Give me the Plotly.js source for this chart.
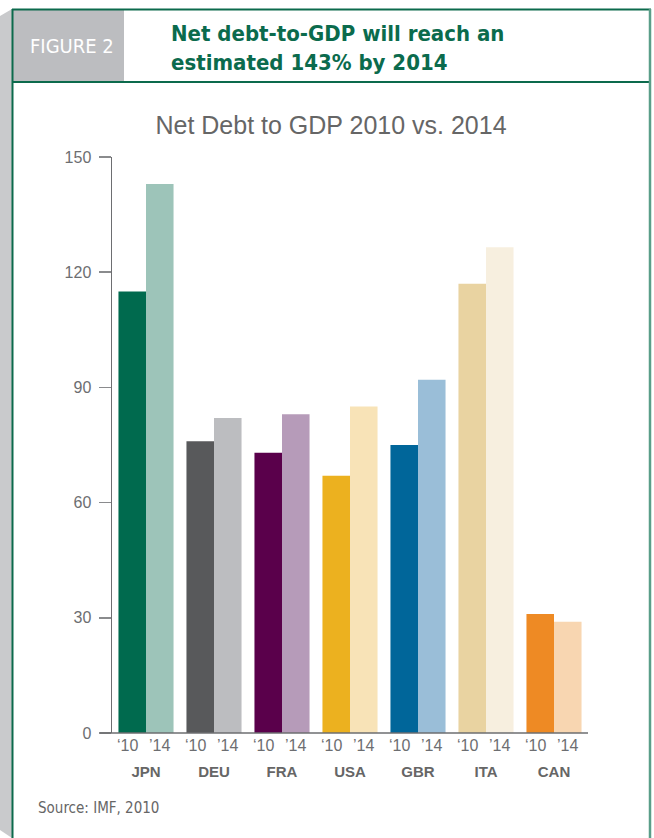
<!DOCTYPE html>
<html>
<head>
<meta charset="utf-8">
<script src="https://cdn.plot.ly/plotly-3.0.1.min.js"></script>
<style>
html,body{margin:0;padding:0;background:#fff;}
#chart{width:654px;height:838px;}
</style>
</head>
<body>
<div id="chart"></div>
<script>
// ---- data ----
var countries = ["JPN", "DEU", "FRA", "USA", "GBR", "ITA", "CAN"];
var debt2010 = [115, 76, 73, 67, 75, 117, 31];
var debt2014 = [143, 82, 83, 85, 92, 126.5, 29];
var yearLabels = ["\u201810", "\u201914"];
var colors2010 = ["#006a4e", "#58595b", "#5a004b", "#ecb11f", "#00669a", "#e9d3a1", "#ee8a24"];
var colors2014 = ["#9dc4b9", "#bcbdc0", "#b69bb9", "#f8e3b7", "#9abed8", "#f7efdf", "#f8d6b1"];
var yTicks = [0, 30, 60, 90, 120, 150];

// ---- layout helpers (pixel -> paper) ----
var W = 654, H = 838, ML = 112, MR = 66, MT = 157, MB = 105;
var PW = W - ML - MR, PH = H - MT - MB;
function px(x) { return (x - ML) / PW; }
function py(y) { return (H - MB - y) / PH; }

var condensed = "'Liberation Sans Narrow', 'DejaVu Sans Condensed', 'Roboto Condensed', Roboto, sans-serif";
var gothic = "'Liberation Sans', Arial, sans-serif";

var traces = [
  {type: "bar", name: "2010", x: countries, y: debt2010, marker: {color: colors2010}, hoverinfo: "x+y"},
  {type: "bar", name: "2014", x: countries, y: debt2014, marker: {color: colors2014}, hoverinfo: "x+y"}
];

var annotations = [
  {text: "FIGURE 2", xref: "paper", yref: "paper", x: px(72), y: py(46), xanchor: "center", yanchor: "middle",
   showarrow: false, font: {family: condensed, size: 20, color: "#ffffff"}},
  {text: "<b>Net debt-to-GDP will reach an<br>estimated 143% by 2014</b>", xref: "paper", yref: "paper",
   x: px(169), y: py(48), xanchor: "left", yanchor: "middle", align: "left", showarrow: false,
   font: {family: condensed, size: 22, color: "#0b6b4d"}},
  {text: "Source: IMF, 2010", xref: "paper", yref: "paper", x: px(36), y: py(808), xanchor: "left", yanchor: "middle",
   showarrow: false, font: {family: condensed, size: 15, color: "#666666"}}
];
countries.forEach(function (c) {
  annotations.push({text: yearLabels[0], xref: "x", yref: "y", x: c, y: 0, xshift: -19, yshift: -2, yanchor: "top",
    showarrow: false, font: {family: gothic, size: 16, color: "#6d6e71"}});
  annotations.push({text: yearLabels[1], xref: "x", yref: "y", x: c, y: 0, xshift: 13, yshift: -2, yanchor: "top",
    showarrow: false, font: {family: gothic, size: 16, color: "#6d6e71"}});
});

var shapes = [
  // left grey strip
  {type: "path", xref: "paper", yref: "paper", layer: "below",
   path: "M " + px(0) + "," + py(16) + " L " + px(12) + "," + py(9) + " L " + px(12) + "," + py(838) + " L " + px(0) + "," + py(830) + " Z",
   fillcolor: "#c9cacc", line: {width: 0}},
  // header grey box
  {type: "rect", xref: "paper", yref: "paper", layer: "below", x0: px(12), x1: px(124), y0: py(9), y1: py(82),
   fillcolor: "#bcbdc0", line: {width: 0}},
  // frame lines
  {type: "line", xref: "paper", yref: "paper", x0: px(12), x1: px(651), y0: py(9.5), y1: py(9.5), line: {color: "#0c6a4c", width: 2}},
  {type: "line", xref: "paper", yref: "paper", x0: px(12), x1: px(651), y0: py(82), y1: py(82), line: {color: "#0c6a4c", width: 2}},
  {type: "line", xref: "paper", yref: "paper", x0: px(12.5), x1: px(12.5), y0: py(9), y1: py(838), line: {color: "#0c6a4c", width: 2}},
  {type: "line", xref: "paper", yref: "paper", x0: px(650), x1: px(650), y0: py(9), y1: py(838), line: {color: "#5a9e89", width: 2.5}},
  // baseline extended to the left
  {type: "line", xref: "paper", yref: "paper", x0: px(100), x1: px(588), y0: 0, y1: 0, line: {color: "#6d6e71", width: 1.5}}
];

var layout = {
  width: W, height: H,
  margin: {l: ML, r: MR, t: MT, b: MB, pad: 0},
  paper_bgcolor: "#ffffff", plot_bgcolor: "#ffffff",
  showlegend: false,
  barmode: "group", bargap: 0.19, bargroupgap: 0,
  title: {text: "Net Debt to GDP 2010 vs. 2014", xref: "paper", x: px(331), xanchor: "center",
          yref: "container", y: 1 - 125 / H, yanchor: "middle",
          font: {family: gothic, size: 25, color: "#666666"}},
  xaxis: {type: "category", range: [-0.5, 6.5], showgrid: false, zeroline: false, showline: false,
          ticks: "", ticklabelstandoff: 28,
          tickfont: {family: gothic, size: 15, color: "#666666", weight: "bold"}, fixedrange: true},
  yaxis: {range: [0, 150], tickvals: yTicks, showgrid: false, zeroline: false, showline: true,
          linecolor: "#6d6e71", linewidth: 1.5, ticks: "outside", ticklen: 12, tickcolor: "#8a8b8d", tickwidth: 1.5,
          ticklabelstandoff: 4, tickfont: {family: gothic, size: 16, color: "#6d6e71"}, fixedrange: true},
  shapes: shapes,
  annotations: annotations
};

Plotly.newPlot("chart", traces, layout, {displayModeBar: false, staticPlot: true});
</script>
</body>
</html>
